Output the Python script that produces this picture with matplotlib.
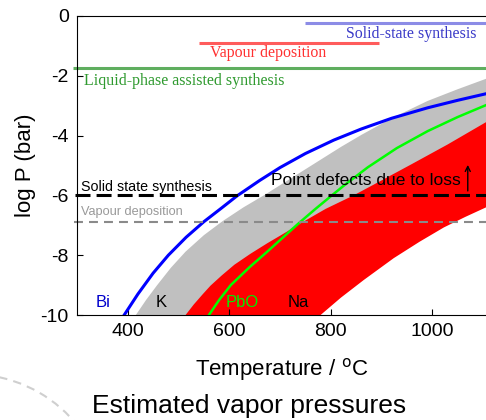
import matplotlib
matplotlib.use("Agg")
import matplotlib.pyplot as plt
from matplotlib.patches import Arc

plt.rcParams['font.family'] = ['Liberation Sans', 'DejaVu Sans']
plt.rcParams['axes.unicode_minus'] = False

# Bi vapour pressure (log P / bar vs T / degC)
bi_T = [393, 420, 450, 480, 515, 550, 585, 615, 660, 700, 750, 806, 860, 920, 991, 1050, 1106]
bi_logp = [-10, -9.3, -8.6, -8.0, -7.4, -6.88, -6.42, -6.02, -5.5, -5.07, -4.6, -4.15,
           -3.78, -3.42, -3.07, -2.82, -2.6]

# PbO
pbo_T = [560, 580, 603, 640, 675, 705, 737, 770, 800, 826, 873, 930, 991, 1050, 1106]
pbo_logp = [-10, -9.5, -9.0, -8.4, -7.88, -7.42, -6.93, -6.45, -6.03, -5.67, -5.06,
            -4.42, -3.85, -3.38, -2.98]

# K band (upper and lower estimate)
k_hi_T = [416, 436, 458, 485, 514, 550, 587, 628, 670, 715, 760, 820, 860, 920, 991, 1050, 1106]
k_hi_logp = [-10, -9.5, -9.0, -8.42, -7.88, -7.33, -6.86, -6.4, -5.98, -5.5, -5.02,
             -4.38, -3.98, -3.42, -2.84, -2.45, -2.1]
k_lo_T = [600, 700, 850, 1000, 1106]
k_lo_logp = [-10, -8.4, -6.8, -5.5, -4.7]

# Na band
na_hi_T = [514, 530, 548, 563, 585, 610, 642, 675, 707, 744, 790, 845, 900, 960, 1030, 1106]
na_hi_logp = [-10, -9.65, -9.3, -9.02, -8.68, -8.32, -7.95, -7.6, -7.28, -6.9, -6.45,
              -6.0, -5.5, -4.95, -4.3, -3.55]
na_lo_T = [780, 820, 865, 924, 975, 1023, 1065, 1106]
na_lo_logp = [-10, -9.42, -8.83, -8.1, -7.55, -7.07, -6.72, -6.4]

# process windows
solid_T, solid_logp = [750, 1106], -0.23
vapour_T, vapour_logp = [540, 895], -0.9
liquid_T, liquid_logp = [292, 1106], -1.74
solid_limit = -6.0
vapour_limit = -6.88

fig = plt.figure(figsize=(4.86, 4.2), dpi=100)
ax = fig.add_axes([77 / 486, 1 - 315 / 420, 1 - 77 / 486, 299 / 420])

# bands
ax.fill(k_hi_T + k_lo_T[::-1], k_hi_logp + k_lo_logp[::-1], color='#c0c0c0', lw=0)
ax.fill(na_hi_T + na_lo_T[::-1], na_hi_logp + na_lo_logp[::-1], color='#ff0000', lw=0)

ax.plot(bi_T, bi_logp, color='#0000ff', lw=2.2)
ax.plot(pbo_T, pbo_logp, color='#00ff00', lw=1.8)

# pressure limits
ax.plot([297, 1106], [solid_limit, solid_limit], color='black', lw=2.2,
        ls=(0, (4.9, 2.0)), clip_on=False)
ax.plot([294, 1106], [vapour_limit, vapour_limit], color='#8a8a8a', lw=1.5,
        ls=(0, (4.3, 2.9)), clip_on=False)
ax.text(308, -5.84, 'Solid state synthesis', fontsize=10.3, color='black')
ax.text(308, -6.66, 'Vapour deposition', fontsize=9.2, color='#999999')
ax.text(683, -5.65, 'Point defects due to loss', fontsize=12.5, color='black')
ax.annotate('', xy=(1070, -4.98), xytext=(1070, -5.85),
            arrowprops=dict(arrowstyle='->', lw=1.0, color='black',
                            shrinkA=0, shrinkB=0, mutation_scale=9))

# process windows at top
ax.plot(solid_T, [solid_logp] * 2, color='#8c8ce6', lw=2.2, solid_capstyle='butt', clip_on=False)
ax.plot(vapour_T, [vapour_logp] * 2, color='#ff5c5c', lw=2.2, solid_capstyle='butt')
ax.plot(liquid_T, [liquid_logp] * 2, color='#5fae5f', lw=2.2, solid_capstyle='butt', clip_on=False)
ax.text(1087, -0.72, 'Solid-state synthesis', family='Liberation Serif', fontsize=11.4,
        color='#3a3ac8', ha='right')
ax.text(562, -1.38, 'Vapour deposition', family='Liberation Serif', fontsize=11.4,
        color='#ff3030')
ax.text(314, -2.3, 'Liquid-phase assisted synthesis', family='Liberation Serif',
        fontsize=11.5, color='#2f9a2f')

# species labels
ax.text(337, -9.73, 'Bi', fontsize=12, color='#0000cc')
ax.text(455, -9.73, 'K', fontsize=12, color='black')
ax.text(593, -9.73, 'PbO', fontsize=12, color='#00ee00')
ax.text(716, -9.73, 'Na', fontsize=12, color='black')

ax.set_xlim(300, 300 + (486 - 77) / 101.5 * 200)
ax.set_ylim(-10, 0)
ax.set_xticks([400, 600, 800, 1000])
ax.set_yticks([0, -2, -4, -6, -8, -10])
ax.tick_params(direction='in', length=4, labelsize=14, pad=6)
ax.spines['right'].set_visible(False)
ax.set_xlabel('Temperature / $^{\\mathrm{o}}$C', fontsize=16, labelpad=11)
ax.set_ylabel('log P (bar)', fontsize=16, labelpad=3)

fig.text(249 / 486, 1 - 413 / 420, 'Estimated vapor pressures', fontsize=19,
         ha='center', va='baseline')

# decorative dashed arc from the slide background
arc = Arc((-0.30, -0.92), 2.76, 2.76, theta1=38, theta2=82, color='#cfcfcf',
          lw=1.5, ls=(0, (4, 3)), transform=fig.dpi_scale_trans)
fig.patches.append(arc)

fig.savefig('out.png', dpi=100)
